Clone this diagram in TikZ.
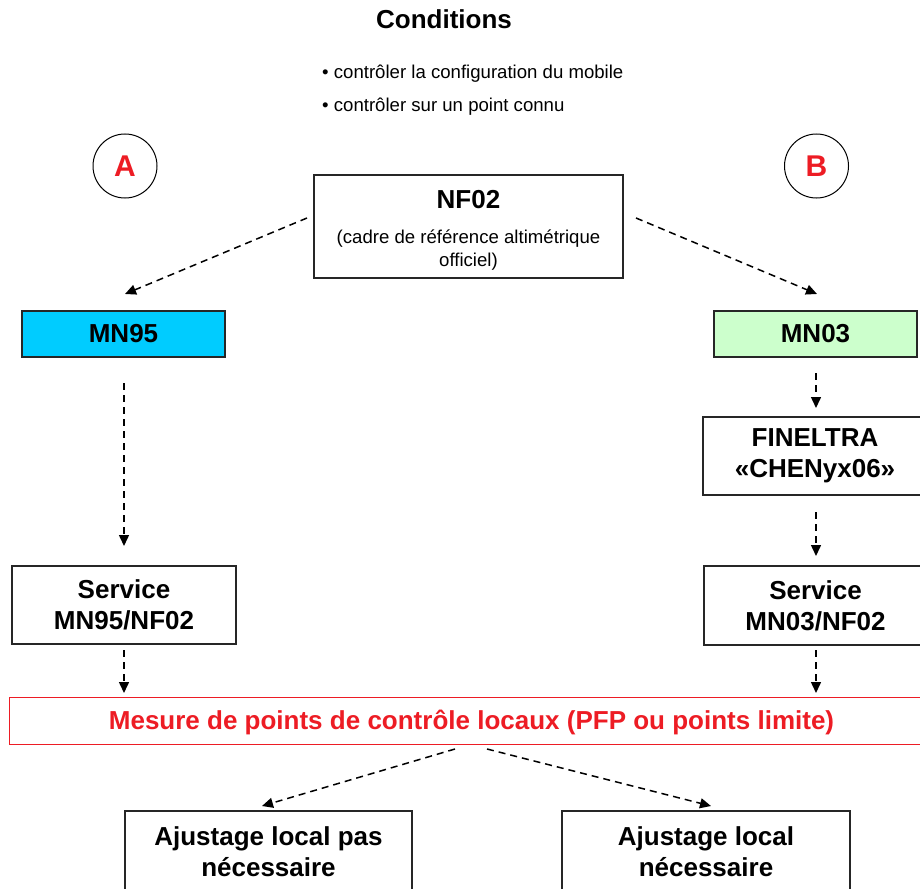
\documentclass[tikz,border=0pt]{standalone}
\usepackage{fontspec}
\setmainfont{Liberation Sans}
\usetikzlibrary{arrows.meta}
\definecolor{mncyan}{RGB}{0,204,255}
\definecolor{mngreen}{RGB}{204,255,204}
\definecolor{redtxt}{RGB}{237,28,36}
\tikzset{
  box/.style={draw=black!85, line width=1.1pt, align=center, inner sep=0pt,
    font=\fontsize{26}{31}\selectfont\bfseries},
  dasharrow/.style={line width=1.5pt, dash pattern=on 7pt off 5pt,
    -{Triangle[length=11pt,width=10pt]}},
  circ/.style={draw, circle, line width=1pt, minimum size=64pt, inner sep=0pt,
    text=redtxt, font=\fontsize{30}{30}\selectfont\bfseries},
  plain/.style={inner sep=0pt, font=\fontsize{18.6}{23}\selectfont},
}
\begin{document}
\begin{tikzpicture}[x=1pt,y=-1pt]
\useasboundingbox (0,0) rectangle (920,888);

% title and conditions
\node[inner sep=0pt, font=\fontsize{26}{30}\selectfont\bfseries] (title) at (444,19) {Conditions};
\node[plain, anchor=west] (c1) at (322,74) {• contrôler la configuration du mobile};
\node[plain, anchor=west] (c2) at (322,107) {• contrôler sur un point connu};

% circles
\node[circ] (A) at (125,166) {A};
\node[circ] (B) at (816.5,166) {B};

% NF02
\node[box, minimum width=309pt, minimum height=103pt] (nf) at (468.5,226.5) {};
\node[inner sep=0pt, font=\fontsize{26}{30}\selectfont\bfseries] (nft) at (468.5,200) {NF02};
\node[plain, align=center] (nfs) at (468.5,250.5) {(cadre de référence altimétrique\\officiel)};

% MN boxes
\node[box, fill=mncyan, minimum width=203pt, minimum height=46pt] (mn95) at (123.5,334) {MN95};
\node[box, fill=mngreen, minimum width=203pt, minimum height=46pt] (mn03) at (815.5,334) {MN03};

% FINELTRA
\node[box, minimum width=224pt, minimum height=78pt] (fin) at (815,456) {FINELTRA\\«CHENyx06»};

% Service boxes
\node[box, minimum width=224pt, minimum height=78pt] (s95) at (124,605) {Service\\MN95/NF02};
\node[box, minimum width=223pt, minimum height=79pt] (s03) at (815.5,605.5) {Service\\MN03/NF02};

% red box
\node[draw=redtxt, line width=1pt, minimum width=925pt, minimum height=47pt] (mes) at (471.5,720.5) {};
\node[inner sep=0pt, text=redtxt, font=\fontsize{26}{30}\selectfont\bfseries] (mest) at (471.5,722)
  {Mesure de points de contrôle locaux (PFP ou points limite)};

% bottom boxes
\node[box, minimum width=287pt, minimum height=82pt] (aj1) at (268.5,852) {Ajustage local pas\\nécessaire};
\node[box, minimum width=288pt, minimum height=82pt] (aj2) at (706,852) {Ajustage local\\nécessaire};

% connector ends
\coordinate (nfL) at (307,218);
\coordinate (nfR) at (636,218);
\coordinate (mn95T) at (125,294);
\coordinate (mn03T) at (817,294);
\coordinate (mn95B) at (124,383);
\coordinate (s95T) at (124,546);
\coordinate (mn03B) at (816,373);
\coordinate (finT) at (816,408);
\coordinate (finB) at (816,512);
\coordinate (s03T) at (816,556);
\coordinate (s95B) at (124,650);
\coordinate (mesL) at (124,693);
\coordinate (s03B) at (816,650);
\coordinate (mesR) at (816,693);
\coordinate (mesB1) at (455,749);
\coordinate (aj1T) at (262,806);
\coordinate (mesB2) at (487,749);
\coordinate (aj2T) at (711,806);

\draw[dasharrow] (nfL) -- (mn95T);
\draw[dasharrow] (nfR) -- (mn03T);
\draw[dasharrow] (mn95B) -- (s95T);
\draw[dasharrow] (mn03B) -- (finT);
\draw[dasharrow] (finB) -- (s03T);
\draw[dasharrow] (s95B) -- (mesL);
\draw[dasharrow] (s03B) -- (mesR);
\draw[dasharrow] (mesB1) -- (aj1T);
\draw[dasharrow] (mesB2) -- (aj2T);
\end{tikzpicture}
\end{document}
